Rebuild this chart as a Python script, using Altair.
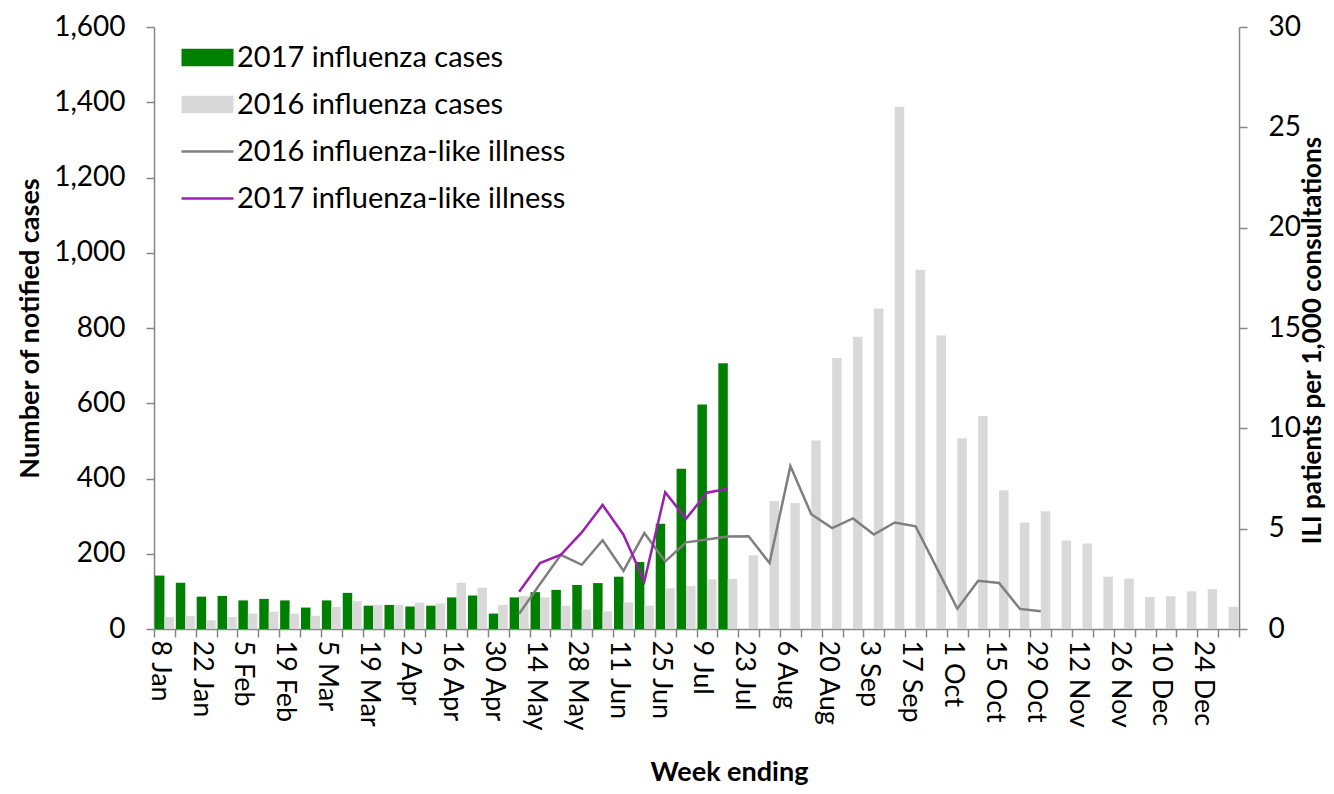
import altair as alt
import pandas as pd

weeks = ["8 Jan", "15 Jan", "22 Jan", "29 Jan", "5 Feb", "12 Feb", "19 Feb", "26 Feb",
         "5 Mar", "12 Mar", "19 Mar", "26 Mar", "2 Apr", "9 Apr", "16 Apr", "23 Apr",
         "30 Apr", "7 May", "14 May", "21 May", "28 May", "4 Jun", "11 Jun", "18 Jun",
         "25 Jun", "2 Jul", "9 Jul", "16 Jul", "23 Jul", "30 Jul", "6 Aug", "13 Aug",
         "20 Aug", "27 Aug", "3 Sep", "10 Sep", "17 Sep", "24 Sep", "1 Oct", "8 Oct",
         "15 Oct", "22 Oct", "29 Oct", "5 Nov", "12 Nov", "19 Nov", "26 Nov", "3 Dec",
         "10 Dec", "17 Dec", "24 Dec", "31 Dec"]

shown_labels = ["8 Jan", "22 Jan", "5 Feb", "19 Feb", "5 Mar", "19 Mar", "2 Apr", "16 Apr",
                "30 Apr", "14 May", "28 May", "11 Jun", "25 Jun", "9 Jul", "23 Jul", "6 Aug",
                "20 Aug", "3 Sep", "17 Sep", "1 Oct", "15 Oct", "29 Oct", "12 Nov", "26 Nov",
                "10 Dec", "24 Dec"]

cases_2017 = [142, 123, 86, 88, 76, 80, 76, 57, 76, 96, 62, 64, 60, 62,
              84, 89, 41, 84, 98, 104, 117, 122, 139, 178, 280, 426, 597, 706]

cases_2016 = [32, 35, 23, 32, 41, 46, 41, 35, 59, 74, 64, 64, 70, 68,
              123, 110, 64, 88, 84, 62, 52, 47, 71, 62, 108, 114, 132, 133,
              196, 340, 335, 501, 720, 777, 852, 1388, 955, 780, 507, 566,
              369, 283, 313, 235, 227, 139, 134, 85, 87, 100, 106, 59]

ili_2016 = [None] * 17 + [0.76, 2.24, 3.70, 3.20, 4.42, 2.90, 4.78, 3.37, 4.32, 4.46,
                          4.61, 4.62, 3.29, 8.12, 5.72, 5.03, 5.51, 4.71, 5.31, 5.12,
                          3.07, 1.01, 2.40, 2.29, 1.00, 0.88] + [None] * 9

ili_2017 = [None] * 17 + [1.86, 3.29, 3.70, 4.81, 6.18, 4.70, 2.37, 6.81, 5.50, 6.79, 6.99]

left_ticks = [0, 200, 400, 600, 800, 1000, 1200, 1400, 1600]
right_ticks = [0, 5, 10, 15, 20, 25, 30]

bar_series = ["2017 influenza cases", "2016 influenza cases"]
line_series = ["2016 influenza-like illness", "2017 influenza-like illness"]
bar_colors = ["#008000", "#d9d9d9"]
line_colors = ["#7f7f7f", "#9b1fb0"]

bar_rows = []
for w, v in zip(weeks, cases_2017):
    bar_rows.append({"week": w, "series": bar_series[0], "cases": v})
for w, v in zip(weeks, cases_2016):
    bar_rows.append({"week": w, "series": bar_series[1], "cases": v})
bar_df = pd.DataFrame(bar_rows)

line_rows = []
for w, v in zip(weeks, ili_2016):
    if v is not None:
        line_rows.append({"week": w, "series": line_series[0], "ili": v})
for w, v in zip(weeks, ili_2017):
    if v is not None:
        line_rows.append({"week": w, "series": line_series[1], "ili": v})
line_df = pd.DataFrame(line_rows)

label_list = "[" + ",".join("'" + s + "'" for s in shown_labels) + "]"

x_enc = alt.X(
    "week:N",
    sort=weeks,
    scale=alt.Scale(paddingInner=0, paddingOuter=0),
    title="Week ending",
    axis=alt.Axis(
        labelAngle=90,
        labelAlign="left",
        labelBaseline="middle",
        labelPadding=3,
        labelOffset=-5,
        labelFontSize=27,
        labelOverlap=False,
        labelExpr="indexof(" + label_list + ", datum.label) >= 0 ? datum.label : ''",
        tickBand="extent",
        titleX=575,
        titleY=143,
        titleAlign="center",
        titleBaseline="middle",
        titleAngle=0,
    ),
)

bars = alt.Chart(bar_df).mark_bar().encode(
    x=x_enc,
    xOffset=alt.XOffset(
        "series:N",
        sort=bar_series,
        scale=alt.Scale(domain=bar_series, paddingInner=0, paddingOuter=0.1),
    ),
    y=alt.Y(
        "cases:Q",
        scale=alt.Scale(domain=[0, 1600], nice=False),
        axis=alt.Axis(
            values=left_ticks,
            format=",.0f",
            title="Number of notified cases",
            labelPadding=21,
            titleAngle=270,
            titleX=-124,
            titleY=301,
            titleAlign="center",
            titleBaseline="middle",
        ),
    ),
    color=alt.Color(
        "series:N",
        scale=alt.Scale(domain=bar_series, range=bar_colors),
        legend=alt.Legend(
            title=None,
            orient="none",
            legendX=39,
            legendY=16,
            symbolType="M-2,-0.68H2V0.68H-2Z",
            symbolSize=676,
            symbolStrokeWidth=0,
            labelFontSize=29,
            labelFont="Lato",
            labelOffset=15,
            labelLimit=600,
            rowPadding=17,
            padding=0,
        ),
    ),
)

lines = alt.Chart(line_df).mark_line(strokeWidth=2.5).encode(
    x=x_enc,
    y=alt.Y(
        "ili:Q",
        scale=alt.Scale(domain=[0, 30], nice=False),
        axis=alt.Axis(
            orient="right",
            values=right_ticks,
            title="ILI patients per 1,000 consultations",
            labelPadding=21,
            titleAngle=270,
            titleX=73,
            titleY=313,
            titleAlign="center",
            titleBaseline="middle",
            titleFontSize=26,
        ),
    ),
    color=alt.Color(
        "series:N",
        scale=alt.Scale(domain=line_series, range=line_colors),
        legend=alt.Legend(
            title=None,
            orient="none",
            legendX=39,
            legendY=110,
            symbolType="M-2,0H2",
            symbolSize=676,
            symbolStrokeWidth=2.5,
            labelFontSize=29,
            labelFont="Lato",
            labelOffset=15,
            labelLimit=600,
            rowPadding=17,
            padding=0,
        ),
    ),
)

chart = (
    alt.layer(bars, lines)
    .resolve_scale(y="independent", color="independent")
    .resolve_legend(color="independent")
    .properties(
        width=1085,
        height=602,
        autosize=alt.AutoSizeParams(type="none"),
        padding={"left": 146, "top": 19, "right": 87, "bottom": 156},
    )
    .configure(font="Lato")
    .configure_view(stroke=None)
    .configure_axis(
        domainColor="#868686",
        tickColor="#868686",
        domainWidth=1.5,
        tickWidth=1.5,
        tickSize=8,
        grid=False,
        labelFont="Lato",
        labelFontSize=28,
        labelColor="black",
        titleFont="Lato",
        titleFontSize=27,
        titleFontWeight="bold",
        titleColor="black",
    )
)

chart.save("out.html", embed_options={"renderer": "svg", "actions": False})
